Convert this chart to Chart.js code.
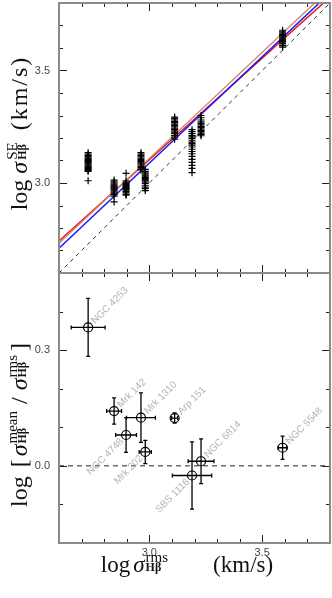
<!DOCTYPE html>
<html>
<head>
<meta charset="utf-8">
<script src="https://cdn.jsdelivr.net/npm/chart.js@4.4.1/dist/chart.umd.min.js"></script>
<style>
  html, body { margin: 0; padding: 0; background: #fff; }
  #wrap { width: 332px; height: 598px; }
</style>
</head>
<body>
<div id="wrap"><canvas id="chart" width="332" height="598"></canvas></div>
<script>
// Objects, in order of rms line width.
const objects = ['NGC 4253', 'Mrk 142', 'NGC 4748', 'Mrk 1310', 'Mrk 202', 'Arp 151', 'SBS 1116', 'NGC 6814', 'NGC 5548'];
const logSigmaRms = [2.729, 2.844, 2.897, 2.963, 2.982, 3.112, 3.189, 3.229, 3.590];
const logSigmaRmsErr = [0.075, 0.033, 0.046, 0.064, 0.027, 0.013, 0.087, 0.057, 0.020];

// log(sigma_mean / sigma_rms), bottom panel
const logRatio = [0.359, 0.142, 0.080, 0.125, 0.036, 0.124, -0.025, 0.012, 0.047];
const logRatioErr = [0.075, 0.034, 0.045, 0.064, 0.030, 0.013, 0.087, 0.058, 0.030];

// single-epoch log sigma values, one list per object (top panel)
const logSigmaSE = [
    [3.135, 3.128, 3.122, 3.118, 3.112, 3.108, 3.104, 3.100, 3.096, 3.092, 3.088, 3.084, 3.080, 3.076, 3.072, 3.068, 3.064, 3.060, 3.056, 3.052, 3.010],
    [3.013, 3.005, 3.000, 2.995, 2.990, 2.986, 2.982, 2.978, 2.974, 2.970, 2.965, 2.960, 2.955, 2.948, 2.942, 2.916],
    [3.043, 3.010, 3.004, 2.998, 2.993, 2.988, 2.984, 2.980, 2.976, 2.972, 2.968, 2.962, 2.956, 2.950, 2.946],
    [3.135, 3.128, 3.122, 3.116, 3.110, 3.105, 3.100, 3.095, 3.090, 3.085, 3.080, 3.074, 3.068, 3.062, 3.058],
    [3.061, 3.052, 3.045, 3.040, 3.035, 3.030, 3.025, 3.020, 3.015, 3.010, 3.005, 2.998, 2.990, 2.982, 2.975, 2.966],
    [3.293, 3.286, 3.280, 3.274, 3.268, 3.262, 3.256, 3.250, 3.244, 3.238, 3.232, 3.226, 3.220, 3.212, 3.204, 3.195],
    [3.237, 3.228, 3.220, 3.212, 3.205, 3.198, 3.190, 3.182, 3.175, 3.168, 3.160, 3.150, 3.140, 3.130, 3.118, 3.105, 3.092, 3.078, 3.065, 3.046],
    [3.300, 3.290, 3.280, 3.272, 3.265, 3.258, 3.252, 3.246, 3.240, 3.234, 3.228, 3.222, 3.216, 3.210],
    [3.679, 3.672, 3.666, 3.660, 3.655, 3.650, 3.645, 3.640, 3.636, 3.632, 3.628, 3.623, 3.618, 3.611, 3.604]
];

// fitted relations, evaluated at the two ends of the x range
const fitX = [2.6, 3.8];
const fitRed = [2.742, 3.826];
const fitBrown = [2.732, 3.864];
const fitBlue = [2.710, 3.845];
const oneToOne = [2.6, 3.8];
const zeroLine = [0, 0];

// tick values
const xMajor = [3.0, 3.5];
const xMinor = [2.7, 2.8, 2.9, 3.1, 3.2, 3.3, 3.4, 3.6, 3.7];
const topMajor = [3.0, 3.5];
const topMinor = [2.7, 2.8, 2.9, 3.1, 3.2, 3.3, 3.4, 3.6, 3.7];
const botMajor = [0.0, 0.3];
const botMinor = [-0.1, 0.1, 0.2, 0.4];

const SERIF = "'Liberation Serif', 'DejaVu Serif', serif";
const SANS = "'Liberation Sans', Arial, sans-serif";
const labelsBelow = ['NGC 4748', 'Mrk 202', 'SBS 1116'];

function pts(xs, ys) {
    return xs.map((x, i) => ({ x: x, y: ys[i] }));
}

let sePoints = [];
logSigmaSE.forEach((list, i) => {
    list.forEach(v => sePoints.push({ x: logSigmaRms[i], y: v }));
});

const supFont = '15px ' + SERIF;
const subFont = 'bold 12px ' + SERIF;

// draws a label made of pieces, centred on (x, y), baseline at y
function drawRich(ctx, pieces, x, y, angle) {
    ctx.save();
    ctx.translate(x, y);
    ctx.rotate(angle);
    ctx.fillStyle = '#111';
    ctx.textAlign = 'left';
    ctx.textBaseline = 'alphabetic';
    const setFont = p => {
        ctx.font = p.f;
        ctx.letterSpacing = (p.ls || 0) + 'px';
    };
    let widths = [];
    let total = 0;
    pieces.forEach(p => {
        let w;
        if (p.gap !== undefined) {
            w = p.gap;
        } else if (p.sup !== undefined) {
            ctx.letterSpacing = '0px';
            ctx.font = supFont;
            let a = ctx.measureText(p.sup).width;
            ctx.font = subFont;
            let b = ctx.measureText(p.sub).width;
            w = Math.max(a, b);
        } else {
            setFont(p);
            w = ctx.measureText(p.t).width;
        }
        widths.push(w);
        total += w;
    });
    let cx = -total / 2;
    pieces.forEach((p, i) => {
        if (p.sup !== undefined) {
            ctx.letterSpacing = '0px';
            ctx.font = supFont;
            ctx.fillText(p.sup, cx, -10);
            ctx.font = subFont;
            ctx.fillText(p.sub, cx, -1);
        } else if (p.t !== undefined) {
            setFont(p);
            ctx.fillText(p.t, cx, 0);
        }
        cx += widths[i];
    });
    ctx.restore();
}

const big = '23px ' + SERIF;
const bigIt = 'italic 23px ' + SERIF;
const tall = '24px ' + SERIF;
const tallIt = 'italic 24px ' + SERIF;

const framePlugin = {
    id: 'frame',
    afterDraw(chart) {
        const ctx = chart.ctx;
        const xs = chart.scales.x;
        const panels = [
            { s: chart.scales.yTop, major: topMajor, minor: topMinor },
            { s: chart.scales.yBot, major: botMajor, minor: botMinor }
        ];
        const left = xs.left, right = xs.right;
        ctx.save();
        ctx.strokeStyle = '#222';
        ctx.lineWidth = 1;
        panels.forEach(p => {
            const top = p.s.top, bottom = p.s.bottom;
            ctx.beginPath();
            const xt = (v, len) => {
                const px = Math.round(xs.getPixelForValue(v)) + 0.5;
                ctx.moveTo(px, bottom); ctx.lineTo(px, bottom - len);
                ctx.moveTo(px, top); ctx.lineTo(px, top + len);
            };
            const yt = (v, len) => {
                const py = Math.round(p.s.getPixelForValue(v)) + 0.5;
                ctx.moveTo(left, py); ctx.lineTo(left + len, py);
                ctx.moveTo(right, py); ctx.lineTo(right - len, py);
            };
            xMajor.forEach(v => xt(v, 8));
            xMinor.forEach(v => xt(v, 4));
            p.major.forEach(v => yt(v, 8));
            p.minor.forEach(v => yt(v, 4));
            ctx.stroke();
        });
        ctx.strokeStyle = '#8a8a8a';
        ctx.lineWidth = 2;
        panels.forEach(p => {
            ctx.strokeRect(left, p.s.top, right - left, p.s.bottom - p.s.top);
        });
        ctx.restore();

        // axis titles
        drawRich(ctx, [
            { t: 'log', f: big }, { gap: 3 }, { t: 'σ', f: bigIt }, { gap: 1 },
            { sup: 'rms', sub: 'Hβ' }, { gap: 45 }, { t: '(km/s)', f: big }
        ], 187, 572, 0);
        drawRich(ctx, [
            { t: 'log', f: tall }, { gap: 6 }, { t: 'σ', f: tallIt }, { gap: 2 },
            { sup: 'SE', sub: 'Hβ' }, { gap: 12 }, { t: '(km/s)', f: tall, ls: 2 }
        ], 27, 133, -Math.PI / 2);
        drawRich(ctx, [
            { t: 'log', f: tall }, { gap: 9 }, { t: '[', f: tall }, { gap: 3 }, { t: 'σ', f: tallIt }, { gap: 1 },
            { sup: 'mean', sub: 'Hβ' }, { gap: 7 }, { t: '/', f: tall }, { gap: 7 }, { t: 'σ', f: tallIt }, { gap: 1 },
            { sup: 'rms', sub: 'Hβ' }, { gap: 4 }, { t: ']', f: tall }
        ], 27, 425, -Math.PI / 2);
    }
};

const errorBarPlugin = {
    id: 'errorBars',
    afterDatasetsDraw(chart) {
        const ctx = chart.ctx;
        const xs = chart.scales.x;
        const ys = chart.scales.yBot;
        ctx.save();
        ctx.strokeStyle = '#000';
        ctx.lineWidth = 1.3;
        ctx.beginPath();
        objects.forEach((name, i) => {
            const px = xs.getPixelForValue(logSigmaRms[i]);
            const py = ys.getPixelForValue(logRatio[i]);
            const x0 = xs.getPixelForValue(logSigmaRms[i] - logSigmaRmsErr[i]);
            const x1 = xs.getPixelForValue(logSigmaRms[i] + logSigmaRmsErr[i]);
            const y0 = ys.getPixelForValue(logRatio[i] - logRatioErr[i]);
            const y1 = ys.getPixelForValue(logRatio[i] + logRatioErr[i]);
            ctx.moveTo(x0, py); ctx.lineTo(x1, py);
            ctx.moveTo(x0, py - 2); ctx.lineTo(x0, py + 2);
            ctx.moveTo(x1, py - 2); ctx.lineTo(x1, py + 2);
            ctx.moveTo(px, y0); ctx.lineTo(px, y1);
            ctx.moveTo(px - 2, y0); ctx.lineTo(px + 2, y0);
            ctx.moveTo(px - 2, y1); ctx.lineTo(px + 2, y1);
        });
        ctx.stroke();

        // object names, rotated 45 degrees
        ctx.fillStyle = '#b4b4b4';
        ctx.font = '10px ' + SANS;
        ctx.textBaseline = 'middle';
        objects.forEach((name, i) => {
            const px = xs.getPixelForValue(logSigmaRms[i]);
            const py = ys.getPixelForValue(logRatio[i]);
            ctx.save();
            if (labelsBelow.includes(name)) {
                ctx.translate(px - 4, py + 5);
                ctx.rotate(-Math.PI / 4);
                ctx.textAlign = 'right';
            } else {
                ctx.translate(px + 5, py - 5);
                ctx.rotate(-Math.PI / 4);
                ctx.textAlign = 'left';
            }
            ctx.fillText(name, 0, 0);
            ctx.restore();
        });
        ctx.restore();
    }
};

function tickAxis(values) {
    return function(scale) {
        scale.ticks = values.map(v => ({ value: v }));
    };
}

// fixed box sizes, no extra padding for half tick labels
function fitYBox(scale) {
    scale.width = 59;
    scale.paddingTop = 0;
    scale.paddingBottom = 0;
}

function fitXBox(scale) {
    scale.height = 55;
    scale.paddingLeft = 0;
    scale.paddingRight = 0;
}

const tickFont = { family: SANS, size: 11 };

new Chart(document.getElementById('chart').getContext('2d'), {
    type: 'scatter',
    data: {
        datasets: [
            {
                data: sePoints, yAxisID: 'yTop',
                pointStyle: 'cross', pointRadius: 3.5, borderColor: '#000', borderWidth: 1.2
            },
            {
                type: 'line', data: pts(fitX, oneToOne), yAxisID: 'yTop',
                borderColor: '#333', borderWidth: 1, borderDash: [4, 4], pointRadius: 0
            },
            {
                type: 'line', data: pts(fitX, fitBlue), yAxisID: 'yTop',
                borderColor: '#1a1aff', borderWidth: 1.5, pointRadius: 0
            },
            {
                type: 'line', data: pts(fitX, fitBrown), yAxisID: 'yTop',
                borderColor: '#c98663', borderWidth: 1.3, pointRadius: 0
            },
            {
                type: 'line', data: pts(fitX, fitRed), yAxisID: 'yTop',
                borderColor: '#f01818', borderWidth: 1.5, pointRadius: 0
            },
            {
                type: 'line', data: pts(fitX, zeroLine), yAxisID: 'yBot',
                borderColor: '#222', borderWidth: 1, borderDash: [5, 4], pointRadius: 0
            },
            {
                data: pts(logSigmaRms, logRatio), yAxisID: 'yBot',
                pointStyle: 'circle', pointRadius: 4.5, borderColor: '#000', borderWidth: 1.2,
                backgroundColor: 'rgba(0,0,0,0)'
            }
        ]
    },
    options: {
        responsive: false,
        animation: false,
        events: [],
        layout: { autoPadding: false, padding: { top: 3, right: 2, left: 0, bottom: 0 } },
        plugins: { legend: { display: false }, tooltip: { enabled: false } },
        scales: {
            x: {
                type: 'linear', position: 'bottom', min: 2.6, max: 3.8,
                grid: { display: false, drawTicks: false }, border: { display: false },
                afterBuildTicks: tickAxis(xMajor),
                afterFit: fitXBox,
                ticks: { padding: 3, font: tickFont, color: '#444', maxRotation: 0, callback: v => v.toFixed(1) }
            },
            yBot: {
                type: 'linear', position: 'left', stack: 'panels', stackWeight: 1, min: -0.2, max: 0.5,
                grid: { display: false, drawTicks: false }, border: { display: false },
                afterBuildTicks: tickAxis(botMajor),
                afterFit: fitYBox,
                ticks: { padding: 9, font: tickFont, color: '#444', callback: v => v.toFixed(1) }
            },
            yTop: {
                type: 'linear', position: 'left', stack: 'panels', stackWeight: 1, min: 2.6, max: 3.8,
                grid: { display: false, drawTicks: false }, border: { display: false },
                afterBuildTicks: tickAxis(topMajor),
                afterFit: fitYBox,
                ticks: { padding: 9, font: tickFont, color: '#444', callback: v => v.toFixed(1) }
            }
        }
    },
    plugins: [framePlugin, errorBarPlugin]
});
</script>
</body>
</html>
